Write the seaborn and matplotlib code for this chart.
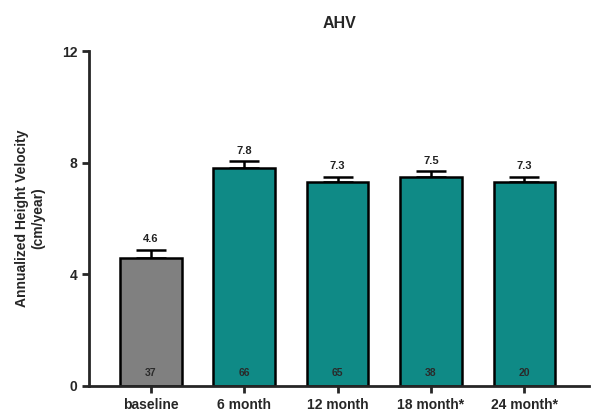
import matplotlib
matplotlib.use('Agg')
import matplotlib.pyplot as plt
import seaborn as sns
import numpy as np

# data
timepoints = ['baseline', '6 month', '12 month', '18 month*', '24 month*']
ahv_mean = [4.6, 7.8, 7.3, 7.5, 7.3]
ahv_sem = [0.27, 0.25, 0.2, 0.2, 0.2]
n_patients = [37, 66, 65, 38, 20]
bar_colors = ['#808080', '#0f8a86', '#0f8a86', '#0f8a86', '#0f8a86']

sns.set_style('ticks')
plt.rcParams['font.family'] = ['Liberation Sans', 'DejaVu Sans']
plt.rcParams['font.weight'] = 'bold'

fig = plt.figure(figsize=(5.99, 4.19), dpi=100)
ax = fig.add_axes([0.149, 0.079, 0.834, 0.799])

sns.barplot(x=timepoints, y=ahv_mean, hue=timepoints, palette=bar_colors,
            legend=False, width=0.66, edgecolor='black', linewidth=1.8,
            saturation=1, ax=ax, zorder=2)

xs = np.arange(len(timepoints))
ax.errorbar(xs, ahv_mean, yerr=[np.zeros(len(ahv_sem)), ahv_sem], fmt='none',
            ecolor='black', elinewidth=1.8, capsize=10.5, capthick=1.8, zorder=1)

for x, m, s, n in zip(xs, ahv_mean, ahv_sem, n_patients):
    ax.text(x, m + s + 0.2, '{:.1f}'.format(m), ha='center', va='bottom',
            fontsize=8, fontweight='bold', color='#222222')
    ax.text(x, 0.3, str(n), ha='center', va='bottom',
            fontsize=7.5, fontweight='bold', color='#2a2a2a')

ax.set_ylim(0, 12)
ax.set_yticks([0, 4, 8, 12])
ax.set_xlim(-0.66, 4.69)
sns.despine(ax=ax)
for sp in ['left', 'bottom']:
    ax.spines[sp].set_linewidth(2)
ax.tick_params(axis='both', width=2, length=5, labelsize=10)
for lab in ax.get_xticklabels() + ax.get_yticklabels():
    lab.set_fontweight('bold')

ax.set_ylabel('Annualized Height Velocity\n(cm/year)', fontsize=10,
              fontweight='bold', labelpad=12)
ax.set_xlabel('')
ax.set_title('AHV', fontsize=11.5, fontweight='bold', pad=17)

fig.savefig('out.png', dpi=100)
